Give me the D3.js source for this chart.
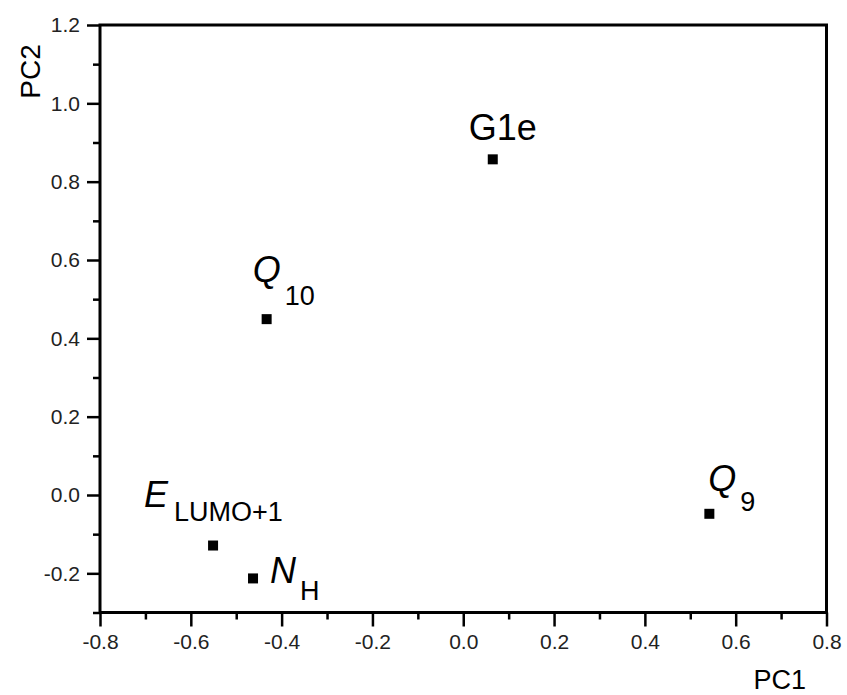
<!DOCTYPE html>
<html>
<head>
<meta charset="utf-8">
<script src="https://cdn.jsdelivr.net/npm/d3@7"></script>
<style>
  html, body { margin: 0; padding: 0; background: #fff; }
  svg { display: block; font-family: "Liberation Sans", Arial, sans-serif; }
</style>
</head>
<body>
<svg id="chart" width="847" height="695"></svg>
<script>
// ---- data ----
const pc1 = [0.065, -0.433, -0.551, -0.463, 0.542];
const pc2 = [0.857, 0.449, -0.129, -0.213, -0.048];
const labelMain = ["G1e", "Q", "E", "N", "Q"];
const labelSub = ["", "10", "LUMO+1", "H", "9"];
const labelItalic = [false, true, true, true, true];
const xTicks = [-0.8, -0.6, -0.4, -0.2, 0.0, 0.2, 0.4, 0.6, 0.8];
const yTicks = [-0.2, 0.0, 0.2, 0.4, 0.6, 0.8, 1.0, 1.2];
const xMinor = [-0.7, -0.5, -0.3, -0.1, 0.1, 0.3, 0.5, 0.7];
const yMinor = [-0.3, -0.1, 0.1, 0.3, 0.5, 0.7, 0.9, 1.1];

// ---- layout (label placement relative to each point, in px) ----
const labelOffsets = [
  { dx: -24, dy: -19, sdx: 0, sdy: 0 },
  { dx: -14, dy: -37, sdx: 4, sdy: 23 },
  { dx: -69, dy: -39, sdx: 6, sdy: 14 },
  { dx: 17, dy: 5, sdx: 4, sdy: 17 },
  { dx: -1, dy: -23, sdx: 4, sdy: 20 }
];

const svg = d3.select("#chart");
const L = 100, R = 826.5, T = 25, B = 612.5;

const x = d3.scaleLinear().domain([-0.8, 0.8]).range([L, R]);
const y = d3.scaleLinear().domain([-0.3, 1.2]).range([B, T]);

const fmt = d => (Math.abs(d) < 1e-9 ? 0 : d).toFixed(1);
const tickColor = "#000";
const FONT = "'Liberation Sans', Arial, sans-serif";

// X axis (bottom)
const xAxis = svg.append("g").attr("transform", `translate(0,${B})`)
  .call(d3.axisBottom(x).tickValues(xTicks).tickFormat(fmt).tickSize(14).tickPadding(8));
xAxis.select(".domain").remove();
xAxis.selectAll(".tick line").attr("stroke", tickColor).attr("stroke-width", 2.5);
xAxis.selectAll(".tick text").attr("font-size", 21).attr("fill", "#222")
  .attr("font-family", FONT);
const xAxisMinor = svg.append("g").attr("transform", `translate(0,${B})`)
  .call(d3.axisBottom(x).tickValues(xMinor).tickFormat("").tickSize(7));
xAxisMinor.select(".domain").remove();
xAxisMinor.selectAll(".tick line").attr("stroke", tickColor).attr("stroke-width", 2.5);

// Y axis (left)
const yAxis = svg.append("g").attr("transform", `translate(${L},0)`)
  .call(d3.axisLeft(y).tickValues(yTicks).tickFormat(fmt).tickSize(13).tickPadding(7));
yAxis.select(".domain").remove();
yAxis.selectAll(".tick line").attr("stroke", tickColor).attr("stroke-width", 2.5);
yAxis.selectAll(".tick text").attr("font-size", 21).attr("fill", "#222")
  .attr("font-family", FONT);
const yAxisMinor = svg.append("g").attr("transform", `translate(${L},0)`)
  .call(d3.axisLeft(y).tickValues(yMinor).tickFormat("").tickSize(7));
yAxisMinor.select(".domain").remove();
yAxisMinor.selectAll(".tick line").attr("stroke", tickColor).attr("stroke-width", 2.5);

// Frame
svg.append("rect")
  .attr("x", x(-0.8)).attr("y", y(1.2))
  .attr("width", x(0.8) - x(-0.8)).attr("height", y(-0.3) - y(1.2))
  .attr("fill", "none").attr("stroke", "#000").attr("stroke-width", 3);

// Axis titles
svg.append("text")
  .attr("x", 806).attr("y", 689)
  .attr("text-anchor", "end")
  .attr("font-size", 27).attr("fill", "#000")
  .text("PC1");
svg.append("text")
  .attr("transform", "translate(40,71.5) rotate(-90)")
  .attr("text-anchor", "middle")
  .attr("font-size", 28).attr("fill", "#000")
  .text("PC2");

// Points
const pts = pc1.map((v, i) => ({ x: v, y: pc2[i], i }));
svg.append("g").selectAll("rect").data(pts).enter().append("rect")
  .attr("x", d => x(d.x) - 5).attr("y", d => y(d.y) - 5)
  .attr("width", 10).attr("height", 10).attr("fill", "#000");

// Labels
const lab = svg.append("g").selectAll("text").data(pts).enter().append("text")
  .attr("x", d => x(d.x) + labelOffsets[d.i].dx)
  .attr("y", d => y(d.y) + labelOffsets[d.i].dy)
  .attr("fill", "#000");
lab.append("tspan")
  .attr("font-size", 36)
  .attr("font-style", d => labelItalic[d.i] ? "italic" : "normal")
  .text(d => labelMain[d.i]);
lab.filter(d => labelSub[d.i] !== "").append("tspan")
  .attr("font-size", 27)
  .attr("dx", d => labelOffsets[d.i].sdx)
  .attr("dy", d => labelOffsets[d.i].sdy)
  .text(d => labelSub[d.i]);
</script>
</body>
</html>
